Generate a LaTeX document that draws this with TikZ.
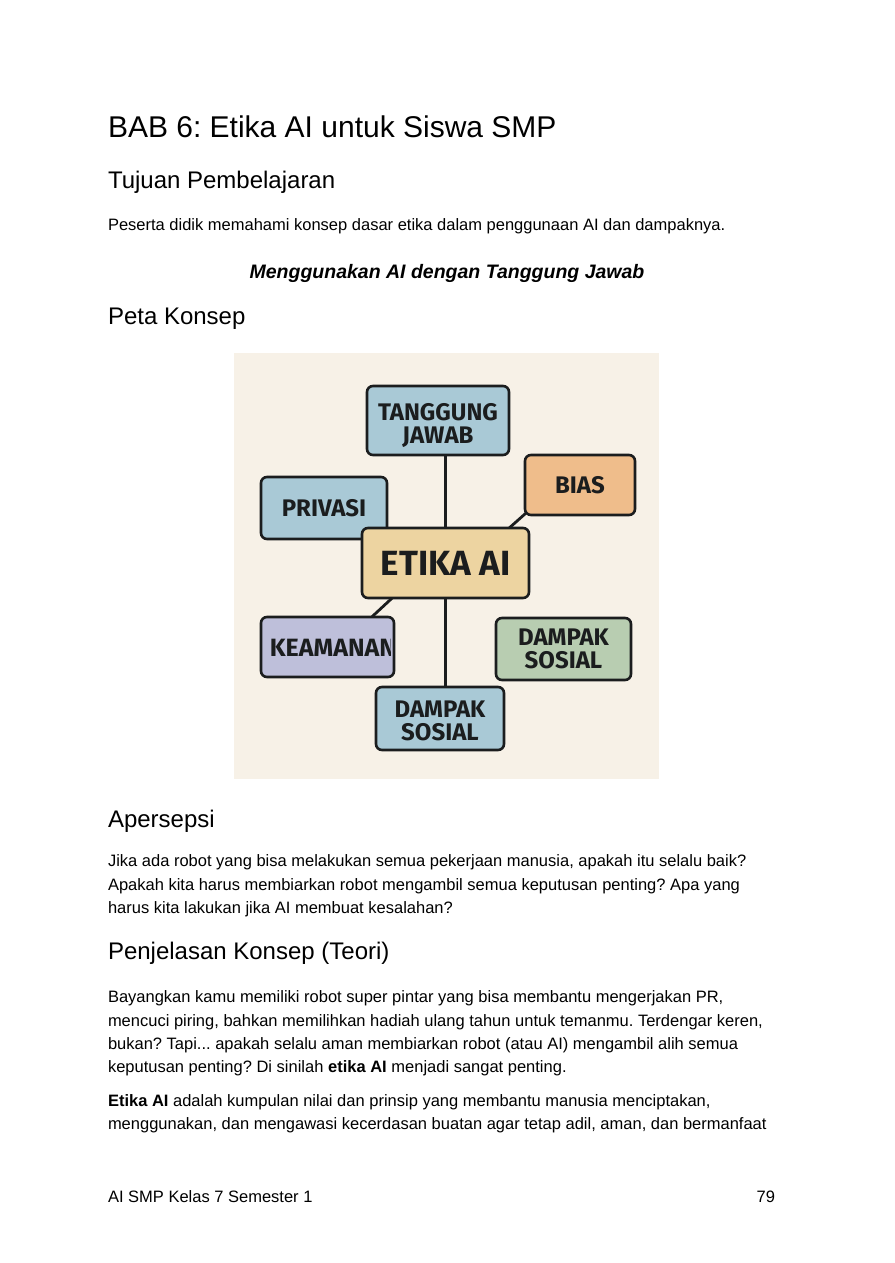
\documentclass[tikz,border=0pt]{standalone}
\usepackage{fontspec}
\setmainfont{Liberation Sans}
\newfontfamily\boxfont{Fira Sans}
\usetikzlibrary{backgrounds,calc}
\pgfdeclarelayer{bottom}
\pgfsetlayers{bottom,background,main}
\definecolor{ink}{HTML}{1B1D1E}
\definecolor{cream}{HTML}{F7F1E7}
\definecolor{blueb}{HTML}{A9C9D6}
\definecolor{orangeb}{HTML}{EFBD8B}
\definecolor{sandb}{HTML}{EDD4A1}
\definecolor{lavb}{HTML}{BEBFDA}
\definecolor{greenb}{HTML}{B8CDB1}
\tikzset{
  txt/.style={anchor=base west, inner sep=0pt, outer sep=0pt, text=black},
  body/.style={txt, font=\fontsize{16.5}{19}\selectfont},
  head/.style={txt, font=\fontsize{24}{28}\selectfont},
  boxlabel/.style={font=\boxfont\bfseries\fontsize{24}{23}\selectfont},
  cbox/.style={draw=ink, line width=2.6pt, rounded corners=6pt, inner sep=0pt,
    align=center, text=ink, boxlabel},
  link/.style={draw=ink, line width=2.8pt}
}
\begin{document}
\frenchspacing
\begin{tikzpicture}[x=1pt,y=-1pt]
\useasboundingbox (0,0) rectangle (894,1263);
\begin{pgfonlayer}{bottom}
\fill[white] (0,0) rectangle (894,1263);
\end{pgfonlayer}

% headings and text
\node[txt, font=\fontsize{30}{34}\selectfont] (title) at (108,137) {BAB 6: Etika AI untuk Siswa SMP};
\node[head] (tujuan) at (108,188) {Tujuan Pembelajaran};
\node[body] (peserta) at (108,230) {Peserta didik memahami konsep dasar etika dalam penggunaan AI dan dampaknya.};
\node[anchor=base, inner sep=0pt, font=\fontsize{19.5}{23}\selectfont\bfseries\itshape] (motto) at (447,278) {Menggunakan AI dengan Tanggung Jawab};
\node[head] (peta) at (108,324) {Peta Konsep};

% concept map
\begin{pgfonlayer}{bottom}
\node[fill=cream, minimum width=425pt, minimum height=426pt, inner sep=0pt, anchor=north west] (map) at (234,353) {};
\end{pgfonlayer}

\node[cbox, fill=blueb, minimum width=142pt, minimum height=69pt] (tj) at (438,420.5) {};
\node[boxlabel, align=center, inner sep=0pt, text=ink] (tjlabel) at ($(tj.center)+(0,5.5)$) {TANGGUNG\\JAWAB};
\node[cbox, fill=orangeb, minimum width=110pt, minimum height=60pt] (bias) at (580,485) {BIAS};
\node[cbox, fill=blueb, minimum width=126pt, minimum height=62pt] (priv) at (324,508) {PRIVASI};
\node[cbox, fill=sandb, minimum width=167pt, minimum height=70pt, font=\boxfont\bfseries\fontsize{35}{36}\selectfont] (etika) at (445.5,563) {ETIKA AI};
\node[cbox, fill=lavb, minimum width=133pt, minimum height=60pt] (kea) at (327.5,647) {};
\node[cbox, fill=greenb, minimum width=135pt, minimum height=62pt] (dsr) at (563.5,649) {DAMPAK\\SOSIAL};
\node[cbox, fill=blueb, minimum width=128pt, minimum height=63pt] (dsb) at (440,718.5) {};
\node[boxlabel, align=center, inner sep=0pt, text=ink] (dsblabel) at ($(dsb.center)+(0,2)$) {DAMPAK\\SOSIAL};

\begin{scope}
  \clip (kea.north west) rectangle ($(kea.south east)+(-5,0)$);
  \node[anchor=west, inner sep=0pt, text=ink, font=\boxfont\bfseries\fontsize{25}{25}\selectfont] (kealabel) at ($(kea.west)+(10,0.5)$) {KEAMANAN};
\end{scope}

\begin{pgfonlayer}{background}
  \draw[link] (etika.center |- tj.center) -- (etika.center);
  \draw[link] (etika.center) -- (etika.center |- dsb.center);
  \draw[link] ($(bias.south west)+(20,-19)$) -- ($(etika.north east)+(-32,11)$);
  \draw[link] ($(etika.south west)+(43,-12)$) -- ($(kea.north east)+(-34,11)$);
\end{pgfonlayer}

% Apersepsi
\node[head] (aper) at (108,827) {Apersepsi};
\node[body] (a1) at (108,866.7) {Jika ada robot yang bisa melakukan semua pekerjaan manusia, apakah itu selalu baik?};
\node[body] (a2) at (108,890) {Apakah kita harus membiarkan robot mengambil semua keputusan penting? Apa yang};
\node[body] (a3) at (108,913.3) {harus kita lakukan jika AI membuat kesalahan?};

% Penjelasan
\node[head] (penj) at (108,959) {Penjelasan Konsep (Teori)};
\node[body] (b1) at (108,1002.7) {Bayangkan kamu memiliki robot super pintar yang bisa membantu mengerjakan PR,};
\node[body] (b2) at (108,1026) {mencuci piring, bahkan memilihkan hadiah ulang tahun untuk temanmu. Terdengar keren,};
\node[body] (b3) at (108,1049.3) {bukan? Tapi... apakah selalu aman membiarkan robot (atau AI) mengambil alih semua};
\node[body] (b4) at (108,1072.6) {keputusan penting? Di sinilah \textbf{etika AI} menjadi sangat penting.};
\node[body] (c1) at (108,1106) {\textbf{Etika AI} adalah kumpulan nilai dan prinsip yang membantu manusia menciptakan,};
\node[body] (c2) at (108,1129.3) {menggunakan, dan mengawasi kecerdasan buatan agar tetap adil, aman, dan bermanfaat};

% footer
\node[body] (foot) at (108,1202) {AI SMP Kelas 7 Semester 1};
\node[body, anchor=base east] (page) at (775,1202) {79};
\end{tikzpicture}
\end{document}
